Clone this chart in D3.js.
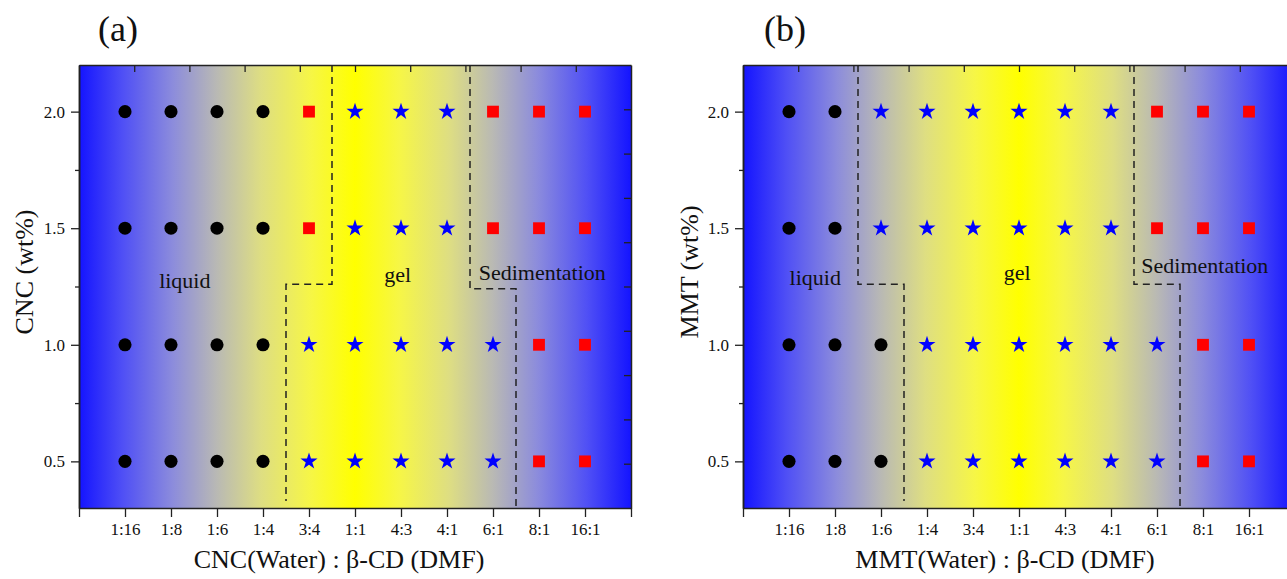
<!DOCTYPE html>
<html>
<head>
<meta charset="utf-8">
<script src="https://cdn.jsdelivr.net/npm/d3@7"></script>
<style>
    body { margin: 0; background: #fff; }
    svg text { font-family: "Liberation Serif", "Times New Roman", serif; fill: #111; }
</style>
</head>
<body>
<svg id="drawing_region"></svg>
<script>
// x categories: ratio of dispersion (water) to beta-CD (DMF)
const ratios = ["1:16", "1:8", "1:6", "1:4", "3:4", "1:1", "4:3", "4:1", "6:1", "8:1", "16:1"];
// y categories: content in wt%
const contents = [2.0, 1.5, 1.0, 0.5];
const yTicks = [0.5, 1.0, 1.5, 2.0];
const yMinorTicks = [0.75, 1.25, 1.75];

// L = liquid (circle), G = gel (star), S = sedimentation (square); one string per content row
const phasesCNC = ["LLLLSGGGSSS", "LLLLSGGGSSS", "LLLLGGGGGSS", "LLLLGGGGGSS"];
const phasesMMT = ["LLGGGGGGSSS", "LLGGGGGGSSS", "LLLGGGGGGSS", "LLLGGGGGGSS"];

// phase boundaries, [ratio index, wt%]
const boundsCNC = [
    [[4.5, 2.2], [4.5, 1.26], [3.5, 1.26], [3.5, 0.33]],
    [[7.5, 2.2], [7.5, 1.24], [8.5, 1.24], [8.5, 0.30]]
];
const boundsMMT = [
    [[1.5, 2.2], [1.5, 1.26], [2.5, 1.26], [2.5, 0.33]],
    [[7.5, 2.2], [7.5, 1.26], [8.5, 1.26], [8.5, 0.30]]
];

// region labels, [text, ratio index, wt%]
const labelsCNC = [["liquid", 1.3, 1.245], ["gel", 5.93, 1.27], ["Sedimentation", 9.07, 1.28]];
const labelsMMT = [["liquid", 0.57, 1.255], ["gel", 4.96, 1.28], ["Sedimentation", 9.04, 1.31]];

const svg = d3.select('#drawing_region')
    .attr('width', 1287)
    .attr('height', 579);

// blue -> yellow -> blue background
const defs = svg.append('defs');
const grad = defs.append('linearGradient')
    .attr('id', 'bg')
    .attr('x1', '0%').attr('x2', '100%')
    .attr('y1', '0%').attr('y2', '0%');
const stops = [
    [0.00, 'rgb(20,20,255)'],
    [0.08, 'rgb(80,80,245)'],
    [0.17, 'rgb(140,140,220)'],
    [0.25, 'rgb(185,185,180)'],
    [0.33, 'rgb(222,222,130)'],
    [0.42, 'rgb(246,246,70)'],
    [0.50, 'rgb(255,255,0)']
];
stops.concat(stops.slice(0, -1).reverse().map(s => [1 - s[0], s[1]]))
    .forEach(s => grad.append('stop').attr('offset', s[0]).attr('stop-color', s[1]));

function drawPanel(config) {
    const width = 552, height = 443;
    const g = svg.append('g')
        .attr('transform', `translate(${config.left}, 65)`);

    const xscale = d3.scaleLinear().domain([-1, 11]).range([0, width]);
    const yscale = d3.scaleLinear().domain([0.3, 2.2]).range([height, 0]);
    const xlin = d3.scaleLinear().domain([0, 10]).range([0, width]);
    const ylin = d3.scaleLinear().domain([0, 10]).range([height, 0]);

    g.append('rect')
        .attr('width', width)
        .attr('height', height)
        .attr('fill', 'url(#bg)');

    // dashed phase boundaries
    const line = d3.line().x(d => xscale(d[0])).y(d => yscale(d[1]));
    g.selectAll('.bound')
        .data(config.bounds)
        .join('path')
        .attr('d', line)
        .attr('fill', 'none')
        .attr('stroke', '#222')
        .attr('stroke-width', 1.5)
        .attr('stroke-dasharray', '7,5');

    // markers
    const points = [];
    config.phases.forEach((row, i) => {
        row.split('').forEach((p, j) => points.push({ x: j, y: contents[i], p: p }));
    });
    const sym = {
        L: d3.symbol().type(d3.symbolCircle).size(135),
        G: d3.symbol().type(d3.symbolStar).size(90),
        S: d3.symbol().type(d3.symbolSquare).size(140)
    };
    const col = { L: '#000', G: '#0000ff', S: '#ff0000' };
    g.selectAll('.pt')
        .data(points)
        .join('path')
        .attr('transform', d => `translate(${xscale(d.x)}, ${yscale(d.y)})`)
        .attr('d', d => sym[d.p]())
        .attr('fill', d => col[d.p]);

    // region labels
    g.selectAll('.lab')
        .data(config.labels)
        .join('text')
        .attr('x', d => xscale(d[1]))
        .attr('y', d => yscale(d[2]))
        .attr('text-anchor', 'middle')
        .attr('font-size', 22)
        .text(d => d[0]);

    // axes
    const xaxis = d3.axisBottom(xscale)
        .tickValues(d3.range(-1, 12))
        .tickFormat(i => ratios[i] || '')
        .tickSize(9).tickPadding(6).tickSizeOuter(0);
    const yaxis = d3.axisLeft(yscale)
        .tickValues(yTicks)
        .tickFormat(d3.format('.1f'))
        .tickSize(8).tickPadding(6).tickSizeOuter(0);
    const yminor = d3.axisLeft(yscale)
        .tickValues(yMinorTicks)
        .tickFormat('')
        .tickSize(4).tickSizeOuter(0);
    const topaxis = d3.axisBottom(xlin)
        .tickValues(d3.range(1, 10))
        .tickFormat('')
        .tickSize(7).tickSizeOuter(0);
    const rightaxis = d3.axisLeft(ylin)
        .tickValues(d3.range(1, 10))
        .tickFormat('')
        .tickSize(7).tickSizeOuter(0);

    const xg = g.append('g').attr('transform', `translate(0, ${height})`).call(xaxis);
    const yg = g.append('g').call(yaxis);
    g.append('g').call(yminor);
    g.append('g').call(topaxis);
    g.append('g').attr('transform', `translate(${width}, 0)`).call(rightaxis);

    g.selectAll('.domain').attr('stroke', '#222').attr('stroke-width', 1.5);
    g.selectAll('.tick line').attr('stroke', '#222').attr('stroke-width', 1.3);
    xg.selectAll('text').attr('font-size', 17).attr('fill', '#111');
    yg.selectAll('text').attr('font-size', 17).attr('fill', '#111');

    // axis titles
    g.append('text')
        .attr('x', config.xtitleX)
        .attr('y', height + 60)
        .attr('text-anchor', 'middle')
        .attr('font-size', 26)
        .text(config.xtitle);
    g.append('text')
        .attr('transform', `translate(${config.ytitleX}, ${config.ytitleY}) rotate(-90)`)
        .attr('text-anchor', 'middle')
        .attr('font-size', 26)
        .text(config.ytitle);
    g.append('text')
        .attr('x', config.tagX)
        .attr('y', -24)
        .attr('text-anchor', 'middle')
        .attr('font-size', 36)
        .text(config.tag);
}

drawPanel({
    left: 79, phases: phasesCNC, bounds: boundsCNC, labels: labelsCNC,
    xtitle: 'CNC(Water) : β-CD (DMF)', xtitleX: 260,
    ytitle: 'CNC (wt%)', ytitleX: -46, ytitleY: 207,
    tag: '(a)', tagX: 39
});
drawPanel({
    left: 743, phases: phasesMMT, bounds: boundsMMT, labels: labelsMMT,
    xtitle: 'MMT(Water) : β-CD (DMF)', xtitleX: 262,
    ytitle: 'MMT (wt%)', ytitleX: -45, ytitleY: 207,
    tag: '(b)', tagX: 42
});
</script>
</body>
</html>
